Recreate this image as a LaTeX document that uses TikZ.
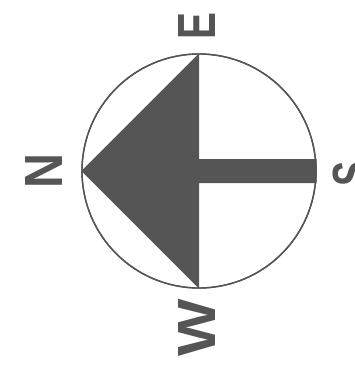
\documentclass[tikz,border=0pt]{standalone}
\usepackage{fontspec}
\setmainfont{Liberation Sans}
\definecolor{ink}{HTML}{555555}
\begin{document}
\begin{tikzpicture}[x=1pt,y=-1pt,
  letter/.style={text=ink, inner sep=0pt, rotate=90, font=\fontsize{53.8}{54}\selectfont\bfseries},
  dial/.style={circle, draw=ink, line width=1.4pt, minimum size=234pt, inner sep=0pt}]
\useasboundingbox (0,0) rectangle (355,374);
\node[dial] (c) at (199,171) {};
\fill[ink] (c.north) -- (c.west) -- (c.south) -- ([yshift=-12pt]c.center) -- ([yshift=-12pt]c.east) -- ([yshift=12pt]c.east) -- ([yshift=12pt]c.center) -- cycle;
\node[dial] (ring) at (199,171) {};
\node[letter] (E) at (196.5,25.7) {\scalebox{0.75}[1]{E}};
\node[letter] (N) at (44,171) {\scalebox{0.9}[1]{N}};
\node[letter] (W) at (196.7,328) {\scalebox{1.13}[1]{W}};
\node[letter] (S) at (352,174) {\scalebox{0.7}[1]{S}};
\end{tikzpicture}
\end{document}
